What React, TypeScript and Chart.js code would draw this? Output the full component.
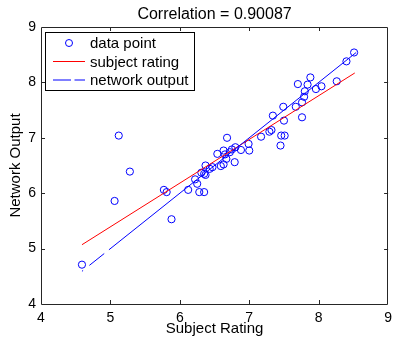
import React, { useEffect, useRef } from "react";
import { Chart, registerables } from "chart.js";

Chart.register(...registerables);

const titleText = "Correlation = 0.90087";
const xAxisTitle = "Subject Rating";
const yAxisTitle = "Network Output";
const legendLabels = ["data point", "subject rating", "network output"];
const axisMin = 4;
const axisMax = 9;

const subjectRatings = [
  4.59, 5.06, 5.12, 5.28, 5.77, 5.81, 5.88, 6.12, 6.22, 6.25, 6.28, 6.35, 6.31, 6.35,
  6.37, 6.37, 6.43, 6.47, 6.54, 6.59, 6.63, 6.63, 6.65, 6.68, 6.67, 6.72, 6.75, 6.79,
  6.8, 6.88, 6.99, 7.0, 7.17, 7.29, 7.32, 7.45, 7.46, 7.51, 7.34, 7.5, 7.49, 7.67,
  7.7, 7.76, 7.76, 7.79, 7.8, 7.84, 7.88, 7.96, 8.04, 8.26, 8.4, 8.51,
];
const networkOutputs = [
  4.71, 5.86, 7.04, 6.39, 6.06, 6.02, 5.53, 6.06, 6.25, 6.17, 6.02, 6.02, 6.37, 6.35,
  6.5, 6.33, 6.44, 6.47, 6.71, 6.49, 6.77, 6.52, 6.7, 7.0, 6.62, 6.74, 6.79, 6.56,
  6.83, 6.78, 6.89, 6.77, 7.02, 7.11, 7.14, 6.86, 7.04, 7.04, 7.4, 7.31, 7.56, 7.56,
  7.97, 7.37, 7.64, 7.74, 7.84, 7.96, 8.09, 7.88, 7.93, 8.02, 8.38, 8.54,
];
const subjectLineX = [4.59, 8.52];
const subjectLineY = [5.07, 8.17];
const networkLineX = [4.59, 8.54];
const networkLineY = [4.59, 8.54];

const FONT = "'Liberation Sans', Arial, Helvetica, sans-serif";

const framePlugin = {
  id: "matlabFrame",
  afterDraw(chart: any) {
    const { ctx, chartArea } = chart;
    const { left, right, top, bottom } = chartArea;
    const xs = chart.scales.x;
    const ys = chart.scales.y;
    ctx.save();
    ctx.strokeStyle = "#262626";
    ctx.lineWidth = 1;
    ctx.beginPath();
    ctx.rect(Math.round(left) + 0.5, Math.round(top) + 0.5, Math.round(right - left) - 1, Math.round(bottom - top));
    ctx.stroke();
    const tl = 4;
    ctx.beginPath();
    for (let v = axisMin + 1; v < axisMax; v++) {
      const px = Math.round(xs.getPixelForValue(v)) + 0.5;
      ctx.moveTo(px, bottom);
      ctx.lineTo(px, bottom - tl);
      ctx.moveTo(px, top);
      ctx.lineTo(px, top + tl);
      const py = Math.round(ys.getPixelForValue(v)) + 0.5;
      ctx.moveTo(left, py);
      ctx.lineTo(left + tl, py);
      ctx.moveTo(right, py);
      ctx.lineTo(right - tl, py);
    }
    ctx.stroke();

    ctx.fillStyle = "#000";
    ctx.textAlign = "center";
    ctx.textBaseline = "alphabetic";
    ctx.font = `16px ${FONT}`;
    ctx.fillText(titleText, (left + right) / 2, 19);

    ctx.font = `15px ${FONT}`;
    ctx.fillText(xAxisTitle, (left + right) / 2, 333);
    ctx.save();
    ctx.translate(20, (top + bottom) / 2);
    ctx.rotate(-Math.PI / 2);
    ctx.fillText(yAxisTitle, 0, 0);
    ctx.restore();

    const lx = left + 4.5;
    const ly = top + 5.5;
    const lw = 149;
    const lh = 58;
    ctx.fillStyle = "#fff";
    ctx.fillRect(lx, ly, lw, lh);
    ctx.strokeStyle = "#000";
    ctx.strokeRect(lx, ly, lw, lh);
    const rows = [43, 61.5, 80];
    ctx.font = `15px ${FONT}`;
    ctx.textAlign = "left";
    ctx.textBaseline = "middle";
    ctx.fillStyle = "#000";
    legendLabels.forEach((t, i) => ctx.fillText(t, 90, rows[i] + 1));
    ctx.strokeStyle = "#0000ff";
    ctx.beginPath();
    ctx.arc(69, rows[0], 3.5, 0, Math.PI * 2);
    ctx.stroke();
    ctx.strokeStyle = "#ff0000";
    ctx.beginPath();
    ctx.moveTo(53, rows[1]);
    ctx.lineTo(85, rows[1]);
    ctx.stroke();
    ctx.strokeStyle = "#0000ff";
    ctx.beginPath();
    ctx.moveTo(53, rows[2]);
    ctx.lineTo(71, rows[2]);
    ctx.moveTo(74.5, rows[2]);
    ctx.lineTo(85, rows[2]);
    ctx.stroke();
    ctx.restore();
  },
};

export default function App() {
  const canvasRef = useRef<HTMLCanvasElement | null>(null);

  useEffect(() => {
    document.body.style.margin = "0";
    const canvas = canvasRef.current;
    if (!canvas) return;
    const points = subjectRatings.map((x, i) => ({ x, y: networkOutputs[i] }));
    const redLine = subjectLineX.map((x, i) => ({ x, y: subjectLineY[i] }));
    const blueLine = networkLineX.map((x, i) => ({ x, y: networkLineY[i] }));

    const chart = new Chart(canvas, {
      type: "scatter",
      data: {
        datasets: [
          {
            label: legendLabels[2],
            data: blueLine,
            showLine: true,
            borderColor: "#0000ff",
            borderWidth: 1,
            borderDash: [1.5, 8, 19, 6, 1000, 0],
            pointRadius: 0,
            fill: false,
          },
          {
            label: legendLabels[1],
            data: redLine,
            showLine: true,
            borderColor: "#ff0000",
            borderWidth: 1,
            pointRadius: 0,
            fill: false,
          },
          {
            label: legendLabels[0],
            data: points,
            showLine: false,
            pointStyle: "circle",
            pointRadius: 3.6,
            pointBorderWidth: 1,
            pointBorderColor: "#0000ff",
            pointBackgroundColor: "rgba(0,0,0,0)",
          },
        ],
      },
      options: {
        animation: false,
        responsive: false,
        maintainAspectRatio: false,
        events: [],
        layout: { padding: { top: 27, right: 5, left: 0, bottom: 0 } },
        plugins: {
          legend: { display: false },
          tooltip: { enabled: false },
          title: { display: false },
        },
        scales: {
          x: {
            type: "linear",
            min: axisMin,
            max: axisMax,
            grid: { display: true, drawOnChartArea: false, drawTicks: false, color: "rgba(0,0,0,0)" },
            border: { display: false },
            ticks: {
              stepSize: 1,
              padding: 6,
              color: "#000",
              font: { family: FONT, size: 14 },
              maxRotation: 0,
            },
            afterFit(scale: any) {
              scale.height = 42;
            },
          },
          y: {
            type: "linear",
            min: axisMin,
            max: axisMax,
            grid: { display: true, drawOnChartArea: false, drawTicks: false, color: "rgba(0,0,0,0)" },
            border: { display: false },
            ticks: {
              stepSize: 1,
              padding: 5,
              color: "#000",
              font: { family: FONT, size: 14 },
            },
            afterFit(scale: any) {
              scale.width = 41;
            },
          },
        },
      },
      plugins: [framePlugin],
    });
    return () => chart.destroy();
  }, []);

  return (
    <div style={{ width: 398, height: 346, background: "#fff" }}>
      <canvas ref={canvasRef} width={398} height={346} style={{ display: "block" }} />
    </div>
  );
}
